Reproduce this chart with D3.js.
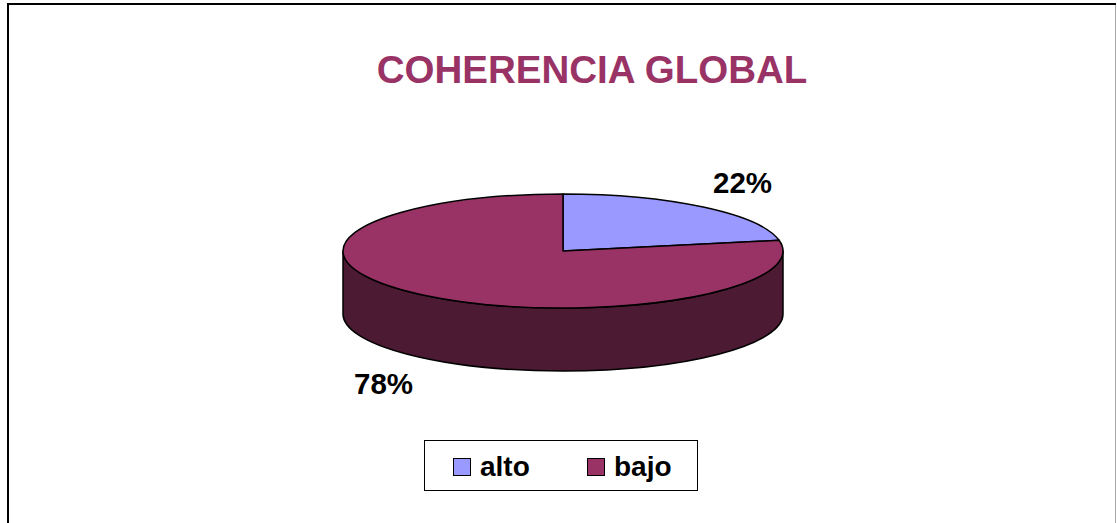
<!DOCTYPE html>
<html>
<head>
<meta charset="utf-8">
<script src="https://cdn.jsdelivr.net/npm/d3@7"></script>
<style>
body { margin: 0; background: #fff; }
svg { display: block; }
</style>
</head>
<body>
<div id="viz"></div>
<script>
var width = 1117,
height = 523;

// data
var categories = ['alto', 'bajo'];
var values = [22, 78];
var labels = ['22%', '78%'];
var colors = ['#9999FF', '#993366'];
var sideColor = '#4D1A33';
var title = 'COHERENCIA GLOBAL';

// pie geometry
var cx = 563, cy = 251, rx = 220, ry = 57, depth = 63;

var svg = d3.select('#viz').append('svg')
  .attr('width', width)
  .attr('height', height);

svg.append('rect')
  .attr('width', width)
  .attr('height', height)
  .attr('fill', '#fff');

// frame
svg.append('line')
  .attr('x1', 8).attr('y1', 4).attr('x2', 8).attr('y2', height)
  .attr('stroke', '#000').attr('stroke-width', 2);
svg.append('line')
  .attr('x1', 7).attr('y1', 4).attr('x2', 1116).attr('y2', 4)
  .attr('stroke', '#000').attr('stroke-width', 2);
svg.append('line')
  .attr('x1', 1115.5).attr('y1', 5).attr('x2', 1115.5).attr('y2', height)
  .attr('stroke', '#aaa').attr('stroke-width', 1);

svg.append('text')
  .attr('x', 592)
  .attr('y', 83)
  .attr('text-anchor', 'middle')
  .attr('font-family', 'Liberation Sans, Arial, sans-serif')
  .attr('font-weight', 'bold')
  .attr('font-size', 38.5)
  .attr('fill', '#993366')
  .text(title);

var pie = d3.pie().sort(null).value(function (d) { return d; });
var arcs = pie(values);

function ex(a, k) { return cx + k * rx * Math.sin(a); }
function ey(a, k) { return cy - k * ry * Math.cos(a); }

// side wall (front half of the ellipse)
var side = 'M' + (cx - rx) + ',' + cy +
  'L' + (cx - rx) + ',' + (cy + depth) +
  'A' + rx + ',' + ry + ' 0 0 0 ' + (cx + rx) + ',' + (cy + depth) +
  'L' + (cx + rx) + ',' + cy +
  'A' + rx + ',' + ry + ' 0 0 1 ' + (cx - rx) + ',' + cy + 'Z';

svg.append('path')
  .attr('d', side)
  .attr('fill', sideColor)
  .attr('stroke', '#000')
  .attr('stroke-width', 1.5)
  .attr('stroke-linejoin', 'round');

// top slices
function slicePath(d) {
  var large = (d.endAngle - d.startAngle) > Math.PI ? 1 : 0;
  return 'M' + cx + ',' + cy +
    'L' + ex(d.startAngle, 1) + ',' + ey(d.startAngle, 1) +
    'A' + rx + ',' + ry + ' 0 ' + large + ' 1 ' + ex(d.endAngle, 1) + ',' + ey(d.endAngle, 1) + 'Z';
}

svg.selectAll('path.slice')
  .data(arcs)
  .enter().append('path')
  .attr('class', 'slice')
  .attr('d', slicePath)
  .attr('fill', function (d, i) { return colors[i]; })
  .attr('stroke', '#000')
  .attr('stroke-width', 1.5)
  .attr('stroke-linejoin', 'round');

// labels
svg.selectAll('text.lbl')
  .data(arcs)
  .enter().append('text')
  .attr('class', 'lbl')
  .attr('x', function (d) { return ex((d.startAngle + d.endAngle) / 2, 1.28); })
  .attr('y', function (d) {
    var a = (d.startAngle + d.endAngle) / 2;
    return ey(a, 1.57) + (Math.cos(a) < 0 ? depth : 0);
  })
  .attr('dy', '0.36em')
  .attr('text-anchor', 'middle')
  .attr('font-family', 'Liberation Sans, Arial, sans-serif')
  .attr('font-weight', 'bold')
  .attr('font-size', 29.5)
  .attr('fill', '#000')
  .text(function (d, i) { return labels[i]; });

// legend
var legend = svg.append('g');
legend.append('rect')
  .attr('x', 424.5).attr('y', 440.5)
  .attr('width', 273).attr('height', 50)
  .attr('fill', '#fff')
  .attr('stroke', '#000')
  .attr('stroke-width', 1);

var legendX = d3.scalePoint().domain(categories).range([453, 587]);

var items = legend.selectAll('g.item')
  .data(categories)
  .enter().append('g')
  .attr('class', 'item')
  .attr('transform', function (d) { return 'translate(' + legendX(d) + ',0)'; });

items.append('rect')
  .attr('x', 0.5).attr('y', 458.5)
  .attr('width', 17).attr('height', 17)
  .attr('fill', function (d, i) { return colors[i]; })
  .attr('stroke', '#000')
  .attr('stroke-width', 1);

items.append('text')
  .attr('x', 27)
  .attr('y', 476)
  .attr('font-family', 'Liberation Sans, Arial, sans-serif')
  .attr('font-weight', 'bold')
  .attr('font-size', 28)
  .attr('fill', '#000')
  .text(function (d) { return d; });
</script>
</body>
</html>
